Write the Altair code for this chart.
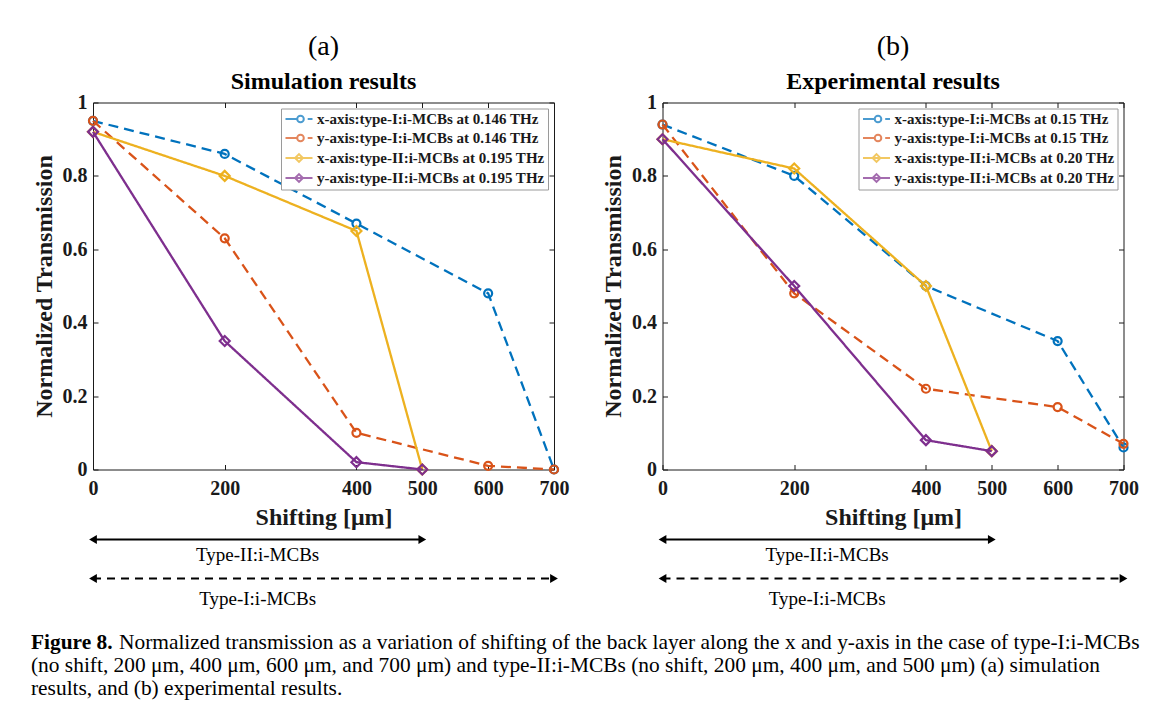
import altair as alt
import pandas as pd

# ---------------- data ----------------
x_type1 = [0, 200, 400, 600, 700]
x_type2 = [0, 200, 400, 500]

sim_x1 = [0.95, 0.86, 0.67, 0.48, 0.00]
sim_y1 = [0.95, 0.63, 0.10, 0.01, 0.00]
sim_x2 = [0.92, 0.80, 0.65, 0.00]
sim_y2 = [0.92, 0.35, 0.02, 0.00]

exp_x1 = [0.94, 0.80, 0.50, 0.35, 0.06]
exp_y1 = [0.94, 0.48, 0.22, 0.17, 0.07]
exp_x2 = [0.90, 0.82, 0.50, 0.05]
exp_y2 = [0.90, 0.50, 0.08, 0.05]

sim_labels = [
    "x-axis:type-I:i-MCBs at 0.146 THz",
    "y-axis:type-I:i-MCBs at 0.146 THz",
    "x-axis:type-II:i-MCBs at 0.195 THz",
    "y-axis:type-II:i-MCBs at 0.195 THz",
]
exp_labels = [
    "x-axis:type-I:i-MCBs at 0.15 THz",
    "y-axis:type-I:i-MCBs at 0.15 THz",
    "x-axis:type-II:i-MCBs at 0.20 THz",
    "y-axis:type-II:i-MCBs at 0.20 THz",
]

x_ticks = [0, 200, 400, 500, 600, 700]
y_ticks = [0, 0.2, 0.4, 0.6, 0.8, 1]

arrow_labels = ["Type-II:i-MCBs", "Type-I:i-MCBs"]
arrow_ends = [500, 700]

caption_bold = "Figure 8."
caption_lines = [
    "Normalized transmission as a variation of shifting of the back layer along the x and y-axis in the case of type-I:i-MCBs",
    "(no shift, 200 \u03bcm, 400 \u03bcm, 600 \u03bcm, and 700 \u03bcm) and type-II:i-MCBs (no shift, 200 \u03bcm, 400 \u03bcm, and 500 \u03bcm) (a) simulation",
    "results, and (b) experimental results.",
]

# ---------------- style ----------------
FONT = "Liberation Serif"
INK = "#1a1a1a"
colors = ["#0072BD", "#D95319", "#EDB120", "#7E2F8E"]
dashes = [[10, 6], [10, 6], [1, 0], [1, 0]]
marker = ["circle", "circle", "diamond", "diamond"]
marker_size = [64, 64, 100, 100]

# legend symbols: line + marker (custom paths, unit = sqrt(size)/2 px)
circle_sym = "M-1,0H0.9M2.7,0H3.5M0.95,0A0.55,0.55 0 1,0 2.05,0A0.55,0.55 0 1,0 0.95,0"
diamond_sym = "M-1,0H3.5M1.25,-0.65L1.9,0L1.25,0.65L0.6,0Z"
legend_paths = [circle_sym, circle_sym, diamond_sym, diamond_sym]

W, H = 461, 367

xscale = alt.Scale(domain=[0, 700], nice=False, zero=False)
yscale = alt.Scale(domain=[0, 1], nice=False, zero=False)


def ax(orient, labels=True, title=None, values=None, fmt=None, lpad=6, tpad=4):
    kw = dict(
        orient=orient, values=values, domain=False, grid=False, tickSize=5, offset=-5,
        tickColor=INK, tickWidth=1, labels=labels,
    )
    if labels:
        kw.update(
            labelFont=FONT, labelFontSize=20, labelFontWeight="bold", labelColor=INK,
            labelPadding=lpad, labelFlush=False, labelOverlap=False,
        )
        if fmt:
            kw["format"] = fmt
    if title:
        kw.update(
            title=title, titleFont=FONT, titleFontSize=24, titleFontWeight="bold",
            titleColor=INK, titlePadding=tpad,
        )
    else:
        kw["title"] = ""
    return alt.Axis(**kw)


def panel(letter, subtitle, ys, labels):
    xs = [x_type1, x_type1, x_type2, x_type2]
    layers = []
    for i in range(4):
        df = pd.DataFrame({"shift": xs[i], "T": ys[i]})
        if i == 0:
            xa = ax("bottom", title="Shifting [\u03bcm]", values=x_ticks, lpad=9, tpad=7)
            ya = ax("left", title="Normalized Transmission", values=y_ticks, fmt="~g", lpad=6, tpad=6)
        elif i == 1:
            xa = ax("top", labels=False, values=x_ticks)
            ya = ax("right", labels=False, values=y_ticks)
        else:
            xa = None
            ya = None
        line = alt.Chart(df).mark_line(
            color=colors[i], strokeWidth=2.3, strokeDash=dashes[i]
        ).encode(
            x=alt.X("shift:Q", scale=xscale, axis=xa),
            y=alt.Y("T:Q", scale=yscale, axis=ya),
        )
        pts = alt.Chart(df).mark_point(
            shape=marker[i], color=colors[i], filled=False, strokeWidth=2.2, size=marker_size[i], opacity=1
        ).encode(
            x=alt.X("shift:Q", scale=xscale, axis=None),
            y=alt.Y("T:Q", scale=yscale, axis=None),
        )
        layers += [line, pts]

    leg = alt.Legend(
        title=None, orient="top-right", offset=6, padding=3,
        strokeColor="#9a9a9a", fillColor="white",
        labelFont=FONT, labelFontSize=15, labelFontWeight="bold", labelColor=INK,
        labelLimit=0, labelOffset=18, rowPadding=3, symbolSize=144, symbolStrokeWidth=2,
    )
    leg_df = pd.DataFrame({"label": labels})
    legend_layer = alt.Chart(leg_df).mark_point(filled=False, strokeWidth=2).encode(
        color=alt.Color("label:N", scale=alt.Scale(domain=labels, range=colors), legend=leg),
        shape=alt.Shape("label:N", scale=alt.Scale(domain=labels, range=legend_paths), legend=leg),
    ).transform_filter("false")
    layers.append(legend_layer)

    # range arrows below the axis
    mid = arrow_ends[0] / 2
    arr = pd.DataFrame({"start": [0, 0], "end": arrow_ends, "label": arrow_labels, "mid": [mid, mid]})
    arr_y = [437, 476]
    lab_y = [452, 496]
    for k in range(2):
        a = arr.iloc[[k]]
        rule = alt.Chart(a).mark_rule(
            color="black", strokeWidth=2, strokeDash=[1, 0] if k == 0 else [8, 6]
        ).encode(
            x=alt.X("start:Q", scale=xscale, axis=None), x2="end:Q", y=alt.value(arr_y[k])
        )
        head_l = alt.Chart(a).mark_point(
            shape="triangle-left", filled=True, color="black", size=80, opacity=1
        ).encode(x=alt.X("start:Q", scale=xscale, axis=None), y=alt.value(arr_y[k]))
        head_r = alt.Chart(a).mark_point(
            shape="triangle-right", filled=True, color="black", size=80, opacity=1
        ).encode(x=alt.X("end:Q", scale=xscale, axis=None), y=alt.value(arr_y[k]))
        txt = alt.Chart(a).mark_text(
            font=FONT, fontSize=19, color="black", align="center", baseline="middle"
        ).encode(x=alt.X("mid:Q", scale=xscale, axis=None), text="label:N", y=alt.value(lab_y[k]))
        layers += [rule, head_l, head_r, txt]

    ch = alt.layer(*layers).resolve_axis(x="independent", y="independent").properties(
        width=W, height=H,
        title=alt.TitleParams(
            text=letter, subtitle=subtitle, font=FONT, fontSize=28, fontWeight="normal", color="black",
            subtitleFont=FONT, subtitleFontSize=24, subtitleFontWeight="bold", subtitleColor="black",
            subtitlePadding=8.5, offset=-1, anchor="middle", frame="group",
        ),
        view=alt.ViewBackground(stroke=INK, strokeWidth=1),
    )
    return ch


pa = panel("(a)", "Simulation results", [sim_x1, sim_y1, sim_x2, sim_y2], sim_labels)
pb = panel("(b)", "Experimental results", [exp_x1, exp_y1, exp_x2, exp_y2], exp_labels)

panels = alt.hconcat(pa, pb, spacing=30.5).resolve_scale(
    color="independent", shape="independent"
).resolve_legend(color="independent", shape="independent")

CAP_SIZE = 21.4
cap_base = [25, 48, 71]
cap_x0 = -62
cap_layers = [
    alt.Chart(pd.DataFrame({"t": [caption_bold]})).mark_text(
        align="left", baseline="alphabetic", font=FONT, fontSize=CAP_SIZE, fontWeight="bold", color="black"
    ).encode(text="t:N", x=alt.value(cap_x0), y=alt.value(cap_base[0]))
]
for k, line_txt in enumerate(caption_lines):
    cap_layers.append(
        alt.Chart(pd.DataFrame({"t": [line_txt]})).mark_text(
            align="left", baseline="alphabetic", font=FONT, fontSize=CAP_SIZE, color="black"
        ).encode(text="t:N", x=alt.value(cap_x0 + (88 if k == 0 else 0)), y=alt.value(cap_base[k]))
    )
caption = alt.layer(*cap_layers).properties(
    width=1000, height=72, view=alt.ViewBackground(stroke="transparent")
)

chart = alt.vconcat(panels, caption, spacing=13).properties(
    padding={"left": 22, "top": 24.5, "right": 0, "bottom": 0},
    background="white",
).configure_view(stroke=INK)

chart.save("out.html", embed_options={"renderer": "svg", "actions": False})
